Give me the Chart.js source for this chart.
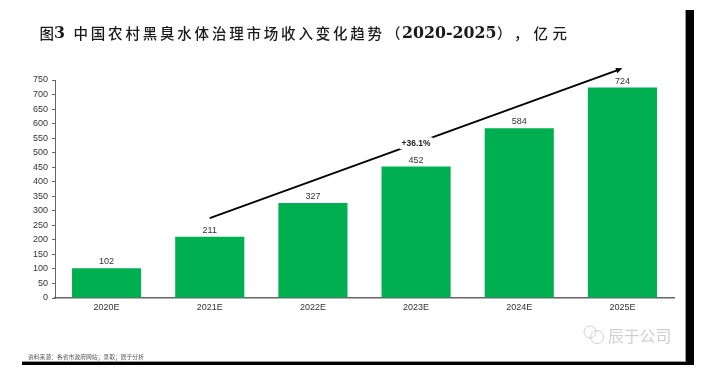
<!DOCTYPE html>
<html lang="zh">
<head>
    <meta charset="UTF-8">
    <title>图3</title>
    <style>
        html, body { margin: 0; padding: 0; background: #fff; }
        #wrap { position: relative; width: 705px; height: 386px; overflow: hidden; }
        canvas { position: absolute; left: 0; top: 0; }
    </style>
</head>
<body>
<div id="wrap"><canvas id="myChart" width="705" height="386"></canvas></div>

<script src="https://cdn.jsdelivr.net/npm/chart.js"></script>
<script>
    const years = ["2020E", "2021E", "2022E", "2023E", "2024E", "2025E"];
    const revenue = [102, 211, 327, 452, 584, 724];
    const yTicks = [0, 50, 100, 150, 200, 250, 300, 350, 400, 450, 500, 550, 600, 650, 700, 750];

    const sourceText = "资料来源：各省市政府网站；录取；辰于分析";
    const watermarkText = "辰于公司";
    const cagrLabel = "+36.1%";
    // trend arrow runs from the 2021E column to the 2025E column, values on the y axis
    const trendCategories = ["2021E", "2025E"];
    const trendValues = [275, 790];

    const sansFont = '"Liberation Sans", Arial, sans-serif';
    const cjkFont = '"Noto Sans CJK SC", sans-serif';
    const cjkTitle = '500 14.5px ' + cjkFont;
    const latinTitle = 'bold 15.8px "DejaVu Serif", serif';

    function drawTitle(c) {
        c.textBaseline = "middle";
        c.textAlign = "left";
        c.fillStyle = "#1a1a1a";
        c.font = cjkTitle;
        c.fillText("图", 39.5, 33);
        c.letterSpacing = "2.8px";
        c.fillText("中国农村黑臭水体治理市场收入变化趋势", 73.5, 33);
        c.letterSpacing = "0px";
        c.fillText("（", 386, 33);
        c.fillText("）", 497, 33);
        c.fillText("，", 514, 33);
        c.letterSpacing = "4.5px";
        c.fillText("亿元", 533.5, 33);
        c.letterSpacing = "0px";
        c.font = latinTitle;
        c.fillText("3", 54, 33.5);
        c.fillText("2020-2025", 402, 33.5);
    }

    const pagePlugin = {
        id: "page",
        afterDraw(chart) {
            const c = chart.ctx;
            const x = chart.scales.x;
            const y = chart.scales.y;
            c.save();

            // frame shadow, right and bottom
            c.fillStyle = "#999";
            c.fillRect(685, 10, 1, 352);
            c.fillRect(22, 361, 664, 1);
            c.fillStyle = "#000";
            c.fillRect(686, 10, 8, 355);
            c.fillRect(22, 362, 672, 3);

            drawTitle(c);

            // value labels
            c.font = "9px " + sansFont;
            c.fillStyle = "#333";
            c.textAlign = "center";
            c.textBaseline = "bottom";
            revenue.forEach((v, i) => {
                c.fillText(String(v), x.getPixelForValue(i), y.getPixelForValue(v) - 2);
            });

            // trend arrow
            const x1 = x.getPixelForValue(years.indexOf(trendCategories[0]));
            const x2 = x.getPixelForValue(years.indexOf(trendCategories[1]));
            const y1 = y.getPixelForValue(trendValues[0]);
            const y2 = y.getPixelForValue(trendValues[1]);
            const angle = Math.atan2(y2 - y1, x2 - x1);
            c.strokeStyle = "#000";
            c.lineWidth = 1.8;
            c.beginPath();
            c.moveTo(x1, y1);
            c.lineTo(x2 - 5 * Math.cos(angle), y2 - 5 * Math.sin(angle));
            c.stroke();
            c.fillStyle = "#000";
            c.beginPath();
            c.moveTo(x2, y2);
            c.lineTo(x2 - 7 * Math.cos(angle - 0.4), y2 - 7 * Math.sin(angle - 0.4));
            c.lineTo(x2 - 7 * Math.cos(angle + 0.4), y2 - 7 * Math.sin(angle + 0.4));
            c.closePath();
            c.fill();

            // growth label sits on a gap in the arrow
            const mx = (x1 + x2) / 2;
            const my = (y1 + y2) / 2;
            c.font = "bold 8.5px " + sansFont;
            c.textAlign = "center";
            c.textBaseline = "middle";
            const w = c.measureText(cagrLabel).width + 4;
            c.fillStyle = "#fff";
            c.fillRect(mx - w / 2, my - 6, w, 12);
            c.fillStyle = "#222";
            c.fillText(cagrLabel, mx, my);

            // watermark
            c.strokeStyle = "#cfcfcf";
            c.lineWidth = 1;
            c.beginPath();
            c.arc(590, 332, 6, 0, Math.PI * 2);
            c.stroke();
            c.beginPath();
            c.arc(597, 337, 6.5, 0, Math.PI * 2);
            c.stroke();
            c.font = "15.8px " + cjkFont;
            c.fillStyle = "#cfcfcf";
            c.textAlign = "left";
            c.fillText(watermarkText, 608, 336);

            // source line
            c.font = "5.8px " + cjkFont;
            c.fillStyle = "#555";
            c.fillText(sourceText, 28, 357);

            c.restore();
        }
    };

    new Chart(document.getElementById("myChart"), {
        type: "bar",
        data: {
            labels: years,
            datasets: [{
                data: revenue,
                backgroundColor: "#00B050",
                categoryPercentage: 1,
                barPercentage: 0.67,
            }],
        },
        options: {
            responsive: false,
            animation: false,
            layout: { padding: { left: 0, top: 80, right: 31, bottom: 68 } },
            plugins: { legend: { display: false }, tooltip: { enabled: false } },
            scales: {
                x: {
                    afterFit(scale) { scale.height = 20; },
                    grid: { display: false, drawTicks: false },
                    border: { color: "#666", width: 1.5 },
                    ticks: { color: "#333", font: { family: sansFont, size: 9 }, padding: 4, maxRotation: 0 },
                },
                y: {
                    min: 0,
                    max: 750,
                    afterFit(scale) { scale.width = 55; },
                    afterBuildTicks(scale) { scale.ticks = yTicks.map(value => ({ value })); },
                    grid: { drawOnChartArea: false, drawTicks: true, tickLength: 3, color: "#666" },
                    border: { color: "#666", width: 1 },
                    ticks: { color: "#333", font: { family: sansFont, size: 9 }, padding: 4, autoSkip: false },
                },
            },
        },
        plugins: [pagePlugin],
    });
</script>
</body>
</html>
